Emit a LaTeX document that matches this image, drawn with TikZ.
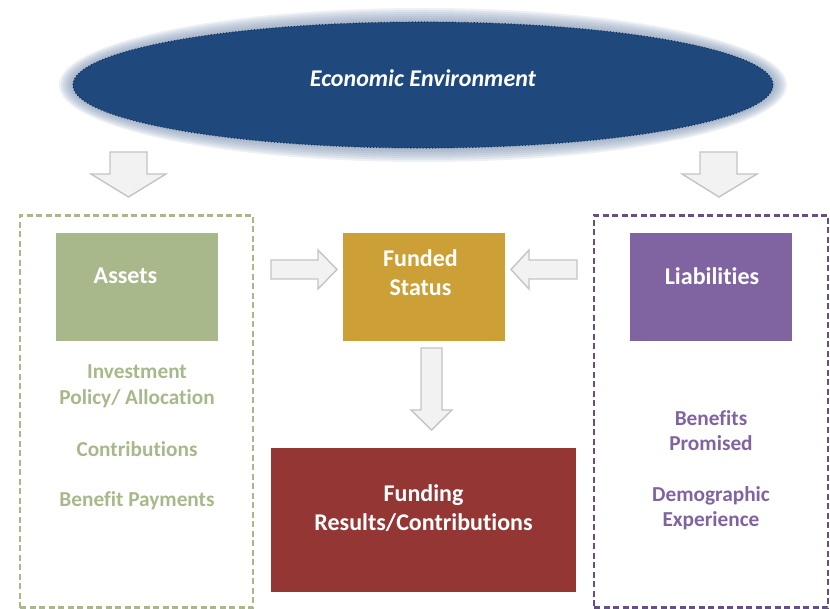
\documentclass[tikz,border=0pt]{standalone}
\usepackage{fontspec}
\setmainfont{Carlito}[Ligatures=CommonOff]
\usetikzlibrary{shapes.geometric}
\definecolor{navy}{HTML}{1F497D}
\definecolor{navyline}{HTML}{17325A}
\definecolor{haze}{HTML}{7F94B2}
\definecolor{assetgreen}{HTML}{A8B88A}
\definecolor{fundgold}{HTML}{CCA036}
\definecolor{liabpurple}{HTML}{8064A2}
\definecolor{liabdash}{HTML}{674E86}
\definecolor{fundred}{HTML}{943634}
\definecolor{arrowfill}{HTML}{F2F2F2}
\definecolor{arrowline}{HTML}{C4C4C4}
\begin{document}
\begin{tikzpicture}[x=1pt,y=-1pt,
  txt/.style={font=\fontsize{21.3}{25.5}\selectfont\bfseries, align=center, inner sep=0pt},
  boxtxt/.style={font=\fontsize{24}{29}\selectfont\bfseries, text=white, align=center, inner sep=0pt},
  solidbox/.style={draw=none, minimum width=162pt, minimum height=108pt, inner sep=0pt},
  groupbox/.style={line width=2.2pt, dash pattern=on 6pt off 3.5pt},
  blockarrow/.style={fill=arrowfill, draw=arrowline, line width=1.4pt, line join=miter}]
\useasboundingbox (0,0) rectangle (830,609);

% soft halo around the ellipse
\foreach \g in {14,12,...,2}
  \fill[haze, opacity=0.14] (423,85) ellipse ({350+\g} and {63+\g});
\node[ellipse, fill=navy, draw=navyline, dotted, line width=1.1pt,
      minimum width=700pt, minimum height=126pt, inner sep=0pt] (env) at (423,85) {};
\node[boxtxt, font=\fontsize{24}{29}\selectfont\bfseries\itshape] (envtxt) at (423,78) {Economic Environment};

% dashed group frames
\node[groupbox, draw=assetgreen, minimum width=233pt, minimum height=392pt, inner sep=0pt] (assetgroup) at (136.5,411.5) {};
\node[groupbox, draw=liabdash, minimum width=234pt, minimum height=392pt, inner sep=0pt] (liabgroup) at (711,411.5) {};

% coloured boxes
\node[solidbox, fill=assetgreen] (assets) at (137,287) {};
\node[boxtxt] (assetstxt) at (125.5,276) {Assets};
\node[solidbox, fill=fundgold] (funded) at (424,287) {};
\node[boxtxt] (fundedtxt) at (420.5,272.5) {Funded\\Status};
\node[solidbox, fill=liabpurple] (liab) at (711,287) {};
\node[boxtxt] (liabtxt) at (712,276) {Liabilities};
\node[fill=fundred, minimum width=305pt, minimum height=144pt, inner sep=0pt] (results) at (423.5,520) {};
\node[boxtxt] (resultstxt) at (423.5,508.5) {Funding\\Results/Contributions};

% side lists
\node[txt, text=assetgreen] (invest) at (137,386.5) {Investment\\Policy/ Allocation};
\node[txt, text=assetgreen] (contrib) at (137,449.5) {Contributions};
\node[txt, text=assetgreen] (benpay) at (137,500.5) {Benefit Payments};
\node[txt, text=liabpurple] (promised) at (711,430.5) {Benefits\\Promised};
\node[txt, text=liabpurple] (demog) at (711,508) {Demographic\\Experience};

% block arrows
\draw[blockarrow] (110,152) -- (147,152) -- (147,174) -- (166,174) -- (128.5,197) -- (91,174) -- (110,174) -- cycle;
\draw[blockarrow] (700,152) -- (737,152) -- (737,174) -- (757,174) -- (719,197) -- (682,174) -- (700,174) -- cycle;
\draw[blockarrow] (271,260) -- (318,260) -- (318,250) -- (337,269.5) -- (318,289) -- (318,279) -- (271,279) -- cycle;
\draw[blockarrow] (577,260) -- (529,260) -- (529,250) -- (511,269.5) -- (529,289) -- (529,279) -- (577,279) -- cycle;
\draw[blockarrow] (421,348) -- (442,348) -- (442,410) -- (452,410) -- (431.5,430) -- (411,410) -- (421,410) -- cycle;
\end{tikzpicture}
\end{document}
